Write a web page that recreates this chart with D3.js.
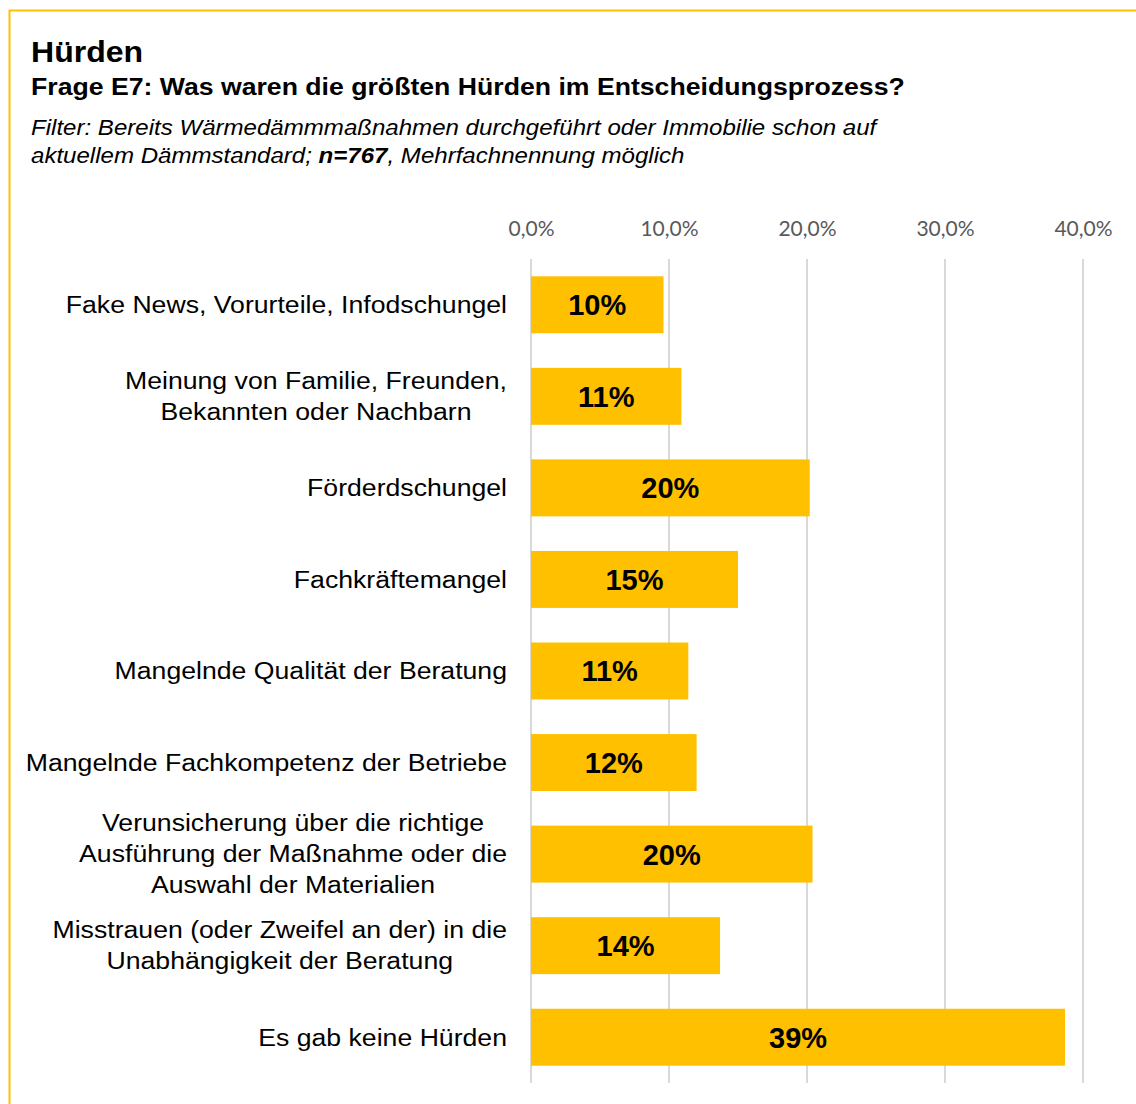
<!DOCTYPE html>
<html>
<head>
<meta charset="utf-8">
<script src="https://cdn.jsdelivr.net/npm/d3@7"></script>
<style>
  html, body { margin: 0; padding: 0; background: #fff; }
  svg { display: block; }
</style>
</head>
<body>
<svg id="chart" width="1136" height="1104"></svg>
<script>
// Survey answers (share of respondents, %)
const categories = [
  ["Fake News, Vorurteile, Infodschungel"],
  ["Meinung von Familie, Freunden,", "Bekannten oder Nachbarn"],
  ["Förderdschungel"],
  ["Fachkräftemangel"],
  ["Mangelnde Qualität der Beratung"],
  ["Mangelnde Fachkompetenz der Betriebe"],
  ["Verunsicherung über die richtige", "Ausführung der Maßnahme oder die", "Auswahl der Materialien"],
  ["Misstrauen (oder Zweifel an der) in die", "Unabhängigkeit der Beratung"],
  ["Es gab keine Hürden"]
];
const values = [9.6, 10.9, 20.2, 15.0, 11.4, 12.0, 20.4, 13.7, 38.7];
const ticks = [0, 10, 20, 30, 40];

const svg = d3.select("#chart");
const gold = "#FFC000";
const sans = "Liberation Sans, Arial, sans-serif";
const stretch = 1.12; // wide text setting used throughout

// frame
svg.append("path")
  .attr("d", "M9.5,1104 V10.5 H1136")
  .attr("fill", "none")
  .attr("stroke", gold)
  .attr("stroke-width", 2);

// headings
const head = svg.append("g").attr("transform", `translate(31,0) scale(${stretch},1)`);
head.append("text").attr("x", 0).attr("y", 62)
  .attr("font-family", sans)
  .attr("font-weight", "bold").attr("font-size", 28.6).attr("fill", "#000")
  .text("Hürden");
head.append("text").attr("x", 0).attr("y", 95)
  .attr("font-family", sans)
  .attr("font-weight", "bold").attr("font-size", 23.8).attr("fill", "#000")
  .text("Frage E7: Was waren die größten Hürden im Entscheidungsprozess?");
const note = head.append("text")
  .attr("font-family", sans)
  .attr("font-style", "italic").attr("font-size", 21.5).attr("fill", "#000");
note.append("tspan").attr("x", 0).attr("y", 135)
  .text("Filter: Bereits Wärmedämmmaßnahmen durchgeführt oder Immobilie schon auf");
const l2 = note.append("tspan").attr("x", 0).attr("y", 163);
l2.append("tspan").text("aktuellem Dämmstandard; ");
l2.append("tspan").attr("font-weight", "bold").text("n=767");
l2.append("tspan").text(", Mehrfachnennung möglich");

// scales
const x = d3.scaleLinear().domain([0, 40]).range([531, 1083]);
const y = d3.scaleBand()
  .domain(d3.range(categories.length))
  .range([259, 1083])
  .paddingInner(0.378)
  .paddingOuter(0.189);

// top axis with vertical gridlines
const axis = svg.append("g")
  .attr("transform", "translate(0,259)")
  .call(d3.axisTop(x).tickValues(ticks)
    .tickFormat(d => d.toFixed(1).replace(".", ",") + "%")
    .tickSize(0).tickPadding(23));
axis.select(".domain").remove();
axis.selectAll("text")
  .attr("font-family", "Lato, Carlito, Calibri, sans-serif")
  .attr("font-size", 21).attr("fill", "#595959");

svg.append("g").selectAll("line").data(ticks).join("line")
  .attr("x1", d => x(d)).attr("x2", d => x(d))
  .attr("y1", 259).attr("y2", 1083)
  .attr("stroke", "#d9d9d9").attr("stroke-width", 2);

// bars
svg.append("g").selectAll("rect").data(values).join("rect")
  .attr("x", x(0))
  .attr("y", (d, i) => y(i))
  .attr("width", d => x(d) - x(0))
  .attr("height", y.bandwidth())
  .attr("fill", gold);

// value labels
svg.append("g").selectAll("text").data(values).join("text")
  .attr("x", d => (x(0) + x(d)) / 2)
  .attr("y", (d, i) => y(i) + y.bandwidth() / 2)
  .attr("dy", "0.36em")
  .attr("text-anchor", "middle")
  .attr("font-family", sans)
  .attr("font-weight", "bold").attr("font-size", 29).attr("fill", "#000")
  .text(d => Math.round(d) + "%");

// category labels: each block right-aligned against the plot,
// lines inside a block centred on each other
const lineH = 31;
svg.append("g")
  .attr("transform", `translate(507,0) scale(${stretch},1)`)
  .selectAll("text").data(categories).join("text")
  .attr("text-anchor", "middle")
  .attr("font-family", sans)
  .attr("font-size", 23.8).attr("fill", "#000")
  .each(function (lines, i) {
    const cy = y(i) + y.bandwidth() / 2;
    const t = d3.select(this);
    const spans = lines.map((s, k) => t.append("tspan")
      .attr("y", cy + (k - (lines.length - 1) / 2) * lineH)
      .attr("dy", "0.35em")
      .text(s));
    const maxW = d3.max(spans, sp => sp.node().getComputedTextLength());
    spans.forEach(sp => sp.attr("x", -maxW / 2));
  });
</script>
</body>
</html>
